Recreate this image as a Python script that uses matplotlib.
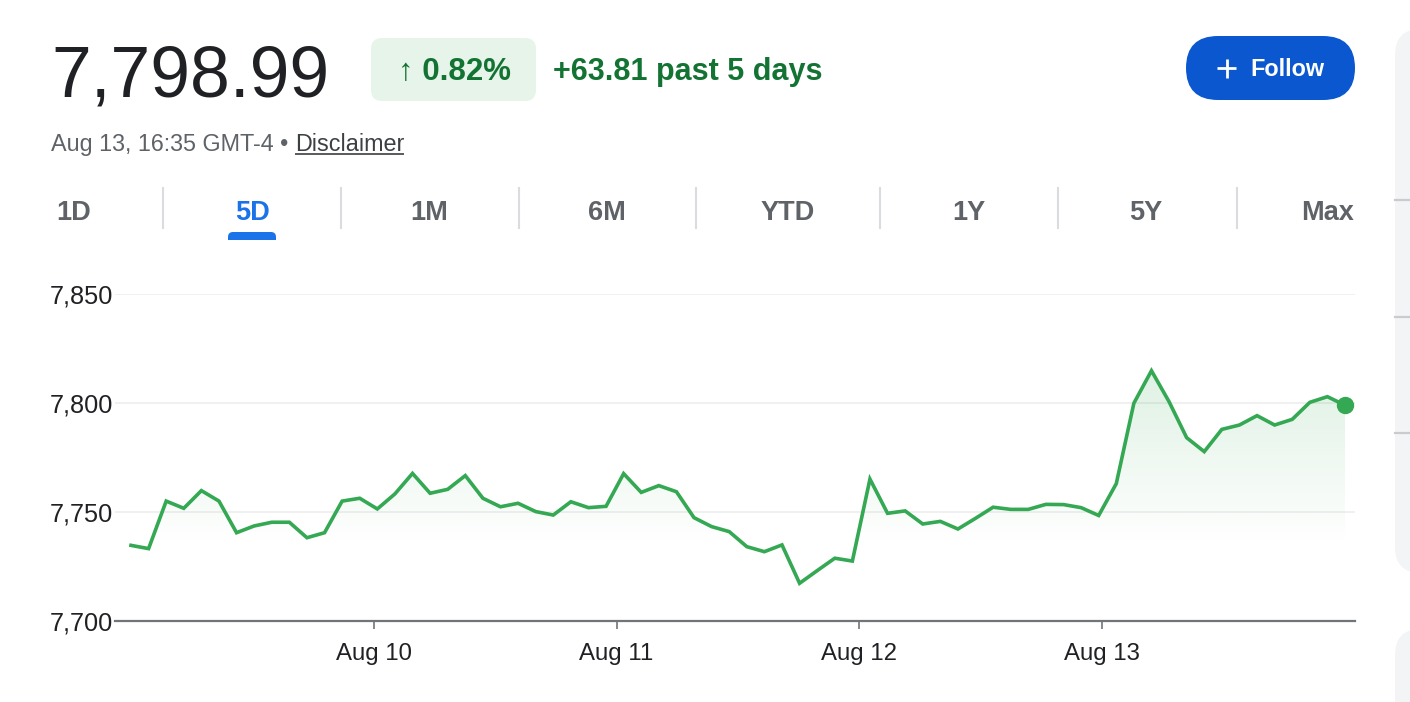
import numpy as np
import matplotlib
matplotlib.use("Agg")
import matplotlib.pyplot as plt
from matplotlib.patches import FancyBboxPatch, Rectangle
from matplotlib.colors import to_rgb
import matplotlib.transforms as mtransforms

# ---------------- data ----------------
prices = [7734.7, 7733.2, 7755.0, 7751.7, 7759.8, 7755.0, 7740.5, 7743.6, 7745.3, 7745.3,
          7738.2, 7740.5, 7755.0, 7756.3, 7751.4, 7758.3, 7767.7, 7758.6, 7760.4, 7766.7,
          7756.3, 7752.4, 7754.0, 7750.2, 7748.6, 7754.7, 7752.0, 7752.6, 7767.6, 7759.0,
          7762.1, 7759.3, 7747.4, 7743.3, 7741.0, 7734.1, 7731.8, 7734.9, 7717.3, 7723.1,
          7728.8, 7727.5, 7765.1, 7749.4, 7750.5, 7744.5, 7745.7, 7742.2, 7747.1, 7752.2,
          7751.2, 7751.2, 7753.5, 7753.4, 7752.0, 7748.4, 7763.0, 7799.9, 7814.8, 7800.6,
          7784.1, 7777.7, 7787.9, 7789.9, 7794.2, 7789.9, 7792.5, 7800.3, 7802.9, 7798.99]
# sample times in days since Aug 9 00:00 (evenly spaced over five days)
times = np.linspace(0.0, 5.0, len(prices))
x_tick_pos = [1, 2, 3, 4]
x_tick_labels = ["Aug 10", "Aug 11", "Aug 12", "Aug 13"]
y_ticks = [7700, 7750, 7800, 7850]
y_tick_labels = ["7,700", "7,750", "7,800", "7,850"]

price_text = "7,798.99"
pct_text = "\u2191 0.82%"
change_text = "+63.81 past 5 days"
time_text = "Aug 13, 16:35 GMT-4 \u2022 "
disclaimer_text = "Disclaimer"
tabs = ["1D", "5D", "1M", "6M", "YTD", "1Y", "5Y", "Max"]
active_tab = "5D"

# ---------------- style ----------------
GREEN = "#34a853"
DARK = "#202124"
GRAY = "#5f6368"
FONT = ["Liberation Sans", "DejaVu Sans"]
plt.rcParams["font.family"] = FONT

W, H = 1410, 702
fig = plt.figure(figsize=(W / 100, H / 100), dpi=100)
fig.patch.set_facecolor("white")

# overlay axes in pixel coordinates for UI elements
ui = fig.add_axes([0, 0, 1, 1], zorder=0)
ui.set_xlim(0, W)
ui.set_ylim(H, 0)
ui.axis("off")
ui.patch.set_alpha(0)

# ---------- header ----------
ui.text(51, 97, price_text, fontsize=51.5, color=DARK, va="baseline", ha="left")

ui.add_patch(FancyBboxPatch((371, 38), 165, 63, boxstyle="round,pad=0,rounding_size=11",
                            fc="#e6f4ea", ec="none"))
ui.text(455, 80, pct_text, fontsize=22.5, color="#137333", fontweight="bold",
        va="baseline", ha="center", family=FONT)
ui.text(553, 80, change_text, fontsize=22, color="#137333", fontweight="bold",
        va="baseline", ha="left")

t1 = ui.text(51, 151, time_text, fontsize=16.8, color=GRAY, va="baseline", ha="left",
             family=FONT)
fig.canvas.draw()
bb = t1.get_window_extent()
inv = ui.transData.inverted()
x_end = inv.transform((bb.x1, bb.y0))[0]
t2 = ui.text(x_end, 151, disclaimer_text, fontsize=16.8, color="#3c4043", va="baseline",
             ha="left")
fig.canvas.draw()
bb2 = t2.get_window_extent()
x0d = inv.transform((bb2.x0, bb2.y0))[0]
x1d = inv.transform((bb2.x1, bb2.y0))[0]
ui.plot([x0d, x1d], [154, 154], color="#3c4043", lw=1.2, solid_capstyle="butt")

# Follow button
ui.add_patch(FancyBboxPatch((1186, 36), 169, 64, boxstyle="round,pad=0,rounding_size=32",
                            fc="#0b57d0", ec="none"))
ui.plot([1217, 1236], [68, 68], color="white", lw=2.0, solid_capstyle="butt")
ui.plot([1226.5, 1226.5], [58.5, 77.5], color="white", lw=2.0, solid_capstyle="butt")
ui.text(1250, 76.5, "Follow", fontsize=16.8, color="white", fontweight="bold",
        va="baseline", ha="left")

# tabs
tab_x = [74, 252, 429, 607, 788, 969, 1146, 1328]
for name, cx in zip(tabs, tab_x):
    col = "#1a73e8" if name == active_tab else GRAY
    ui.text(cx, 220, name, fontsize=19.5, color=col, fontweight="bold",
            va="baseline", ha="center")
for sx in [163, 341, 519, 696, 880, 1058, 1237]:
    ui.plot([sx, sx], [188, 228], color="#dadce0", lw=1.5)
ui.add_patch(FancyBboxPatch((228, 232), 48, 16, boxstyle="round,pad=0,rounding_size=5",
                            fc="#1a73e8", ec="none"))
ui.add_patch(Rectangle((220, 240), 64, 14, fc="white", ec="none"))

# right-hand panel
ui.add_patch(FancyBboxPatch((1395, 29), 60, 544, boxstyle="round,pad=0,rounding_size=26",
                            fc="#f3f4f6", ec="none"))
ui.add_patch(FancyBboxPatch((1395, 629), 60, 120, boxstyle="round,pad=0,rounding_size=26",
                            fc="#f3f4f6", ec="none"))
for ly in [200, 317, 433]:
    ui.plot([1395, 1410], [ly, ly], color="#c9cbce", lw=1.6)

# ---------- chart ----------
ax_left, ax_right = 115, 1355
ax_top, ax_bottom = 294, 621
ax = fig.add_axes([ax_left / W, 1 - ax_bottom / H, (ax_right - ax_left) / W,
                   (ax_bottom - ax_top) / H], zorder=2)
ax.patch.set_alpha(0)

step = times[1] - times[0]
px_per_step = (1345 - 131) / (len(prices) - 1)
xmin = times[0] - (131 - ax_left) / px_per_step * step
xmax = times[-1] + (ax_right - 1345) / px_per_step * step
ax.set_xlim(xmin, xmax)
ax.set_ylim(y_ticks[0], y_ticks[-1])

ax.set_yticks(y_ticks)
ax.set_yticklabels([])
ax.tick_params(axis="y", length=0)
ax.grid(axis="y", color="#f0f0f0", lw=1.4)
ax.set_axisbelow(True)

for s in ["top", "right", "left"]:
    ax.spines[s].set_visible(False)
ax.spines["bottom"].set_color("#70757a")
ax.spines["bottom"].set_linewidth(1.6)
ax.spines["bottom"].set_zorder(5)

ax.set_xticks(x_tick_pos)
ax.set_xticklabels(x_tick_labels)
ax.tick_params(axis="x", length=6, width=1.2, color="#70757a", pad=10,
               labelsize=17.3, labelcolor=DARK)

ytrans = mtransforms.blended_transform_factory(fig.transFigure, ax.transData)
for v, lab in zip(y_ticks, y_tick_labels):
    fig.text(50 / W, v, lab, transform=ytrans, fontsize=18.3, color=DARK,
             ha="left", va="center_baseline")

# gradient fill under the line
poly = ax.fill_between(times, prices, y_ticks[0], facecolor="none", edgecolor="none")
n = 256
yy = np.linspace(y_ticks[-1], y_ticks[0], n)
alpha = np.clip((yy - 7735) / (7815 - 7735), 0, 1) * 0.16
rgb = to_rgb(GREEN)
img = np.zeros((n, 1, 4))
img[:, 0, 0], img[:, 0, 1], img[:, 0, 2] = rgb
img[:, 0, 3] = alpha
im = ax.imshow(img, extent=[times[0], times[-1], y_ticks[0], y_ticks[-1]],
               aspect="auto", origin="upper", zorder=1, interpolation="bilinear")
path = poly.get_paths()[0]
im.set_clip_path(path, transform=ax.transData)
ax.set_xlim(xmin, xmax)
ax.set_ylim(y_ticks[0], y_ticks[-1])

ax.plot(times, prices, color=GREEN, lw=2.6, zorder=3, solid_joinstyle="miter")
ax.plot(times[-1], prices[-1], "o", color=GREEN, ms=11.5, zorder=4, clip_on=False)

fig.savefig("out.png", dpi=100, facecolor="white")
